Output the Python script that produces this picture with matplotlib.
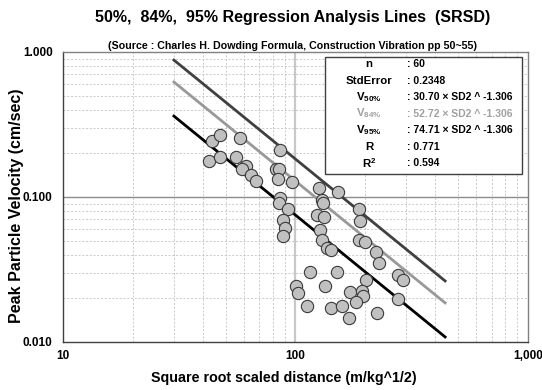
import numpy as np
import matplotlib
matplotlib.use("Agg")
import matplotlib.pyplot as plt
from matplotlib.ticker import FixedLocator, NullFormatter, LogLocator

plt.rcParams["font.family"] = ["Liberation Sans", "DejaVu Sans"]
plt.rcParams["mathtext.fontset"] = "custom"
plt.rcParams["mathtext.rm"] = "Liberation Sans"
plt.rcParams["mathtext.bf"] = "Liberation Sans:bold"

# === Data ===
sd = [43.9, 47.5, 57.7, 42.6, 47.3, 55.5, 61.2, 59.0, 64.5, 67.4,
      85.8, 82.4, 85.2, 83.8, 96.3, 126.2, 152.4, 85.8, 85.2, 92.4,
      129.7, 130.7, 123.4, 132.6, 88.6, 90.4, 88.6, 127.5, 129.7, 136.6,
      142.1, 187.6, 190.0, 187.6, 199.0, 223.0, 227.5, 115.5, 150.1, 100.2,
      103.0, 133.9, 201.0, 170.8, 192.6, 195.1, 181.5, 111.7, 142.1, 158.5,
      169.9, 224.8, 276.7, 290.8, 275.2]
ppv = [0.2445, 0.2664, 0.2552, 0.1763, 0.1887, 0.1878, 0.1643, 0.1552, 0.1411, 0.1296,
       0.2109, 0.1552, 0.1560, 0.1338, 0.1269, 0.1153, 0.1083, 0.0980, 0.0905, 0.0827,
       0.0954, 0.0905, 0.0751, 0.0731, 0.0689, 0.0608, 0.0538, 0.0592, 0.0505, 0.0445,
       0.0431, 0.0823, 0.0683, 0.0505, 0.0489, 0.0418, 0.0349, 0.0304, 0.0304, 0.0243,
       0.0219, 0.0243, 0.0268, 0.0221, 0.0225, 0.0208, 0.0190, 0.0177, 0.0172, 0.0177,
       0.0147, 0.0159, 0.0290, 0.0268, 0.0197]

line_labels = ["50%", "84%", "95%"]
line_coef = [30.70, 52.72, 74.71]
slope = -1.306
line_colors = ["#000000", "#999999", "#404040"]
sd_range = [30, 440]

stat_names = ["n", "StdError", r"$\mathbf{V}_{\mathbf{50\%}}$", r"$\mathbf{V}_{\mathbf{84\%}}$",
              r"$\mathbf{V}_{\mathbf{95\%}}$", "R", r"$\mathbf{R}^{\mathbf{2}}$"]
stat_values = [": 60", ": 0.2348", ": 30.70 \u00d7 SD2 ^ -1.306", ": 52.72 \u00d7 SD2 ^ -1.306",
               ": 74.71 \u00d7 SD2 ^ -1.306", ": 0.771", ": 0.594"]
stat_colors = ["black", "black", "black", "#a0a0a0", "black", "black", "black"]

# === Plot ===
fig = plt.figure(figsize=(5.42, 3.9), dpi=100, facecolor="white")
ax = fig.add_axes([0.1162, 0.1231, 0.858, 0.7436])
ax.set_xscale("log")
ax.set_yscale("log")
ax.set_xlim(10, 1000)
ax.set_ylim(0.01, 1.0)

# grid
ax.xaxis.set_minor_locator(LogLocator(base=10, subs=np.arange(2, 10)))
ax.yaxis.set_minor_locator(LogLocator(base=10, subs=np.arange(2, 10)))
ax.xaxis.set_minor_formatter(NullFormatter())
ax.yaxis.set_minor_formatter(NullFormatter())
ax.grid(which="minor", color="#c4c4c4", linestyle=(0, (2.5, 2)), linewidth=0.6)
ax.axvline(100, color="#c8c8c8", linewidth=1.6, zorder=1)
ax.axhline(0.1, color="#8c8c8c", linewidth=1.0, zorder=1)

# regression lines
xs = np.array(sd_range, dtype=float)
for coef, col in zip(line_coef, line_colors):
    ax.plot(xs, coef * xs ** slope, color=col, linewidth=2.0, zorder=3)

# points
ax.scatter(sd, ppv, s=78, facecolor="#c0c0c0", edgecolor="#3a3a3a", linewidth=0.8, zorder=4)

# ticks
ax.xaxis.set_major_locator(FixedLocator([10, 100, 1000]))
ax.yaxis.set_major_locator(FixedLocator([0.01, 0.1, 1.0]))
ax.set_xticklabels(["10", "100", "1,000"], fontsize=8.5, fontweight="bold")
ax.set_yticklabels(["0.010", "0.100", "1.000"], fontsize=8.5, fontweight="bold")
ax.tick_params(which="both", length=0)
ax.tick_params(axis="x", pad=5.5)
ax.tick_params(axis="y", pad=7.5)
for s in ax.spines.values():
    s.set_color("#808080")
    s.set_linewidth(1.0)
ax.spines["left"].set_color("#404040")
ax.spines["bottom"].set_color("#404040")

ax.set_xlabel("Square root scaled distance (m/kg^1/2)", fontsize=10.3, fontweight="bold")
ax.xaxis.label.set_va("center")
ax.xaxis.set_label_coords(0.475, -0.124)
ax.set_ylabel("Peak Particle Velocity (cm/sec)", fontsize=11.5, fontweight="bold")
ax.yaxis.label.set_va("center")
ax.yaxis.set_label_coords(-0.1, 0.47)

fig.text(0.539, 0.955, "50%,  84%,  95% Regression Analysis Lines  (SRSD)",
         ha="center", va="center", fontsize=11.5, fontweight="bold")
fig.text(0.539, 0.882, "(Source : Charles H. Dowding Formula, Construction Vibration pp 50~55)",
         ha="center", va="center", fontsize=7.7, fontweight="bold")

# stats box
bx0, bx1, by0, by1 = 325 / 542, 522 / 542, 1 - 57 / 390, 1 - 174 / 390
box = plt.Rectangle((bx0, by1), bx1 - bx0, by0 - by1, transform=fig.transFigure,
                    facecolor="white", edgecolor="#404040", linewidth=1.0, zorder=5)
fig.add_artist(box)
row_y = [64, 80.5, 97, 113.5, 130, 146.5, 163]
for nm, val, col, py in zip(stat_names, stat_values, stat_colors, row_y):
    fig.text(369 / 542, 1 - py / 390, nm, ha="center", va="center", fontsize=8.2,
             fontweight="bold", color=col, zorder=6)
    fig.text(407 / 542, 1 - py / 390, val, ha="left", va="center", fontsize=7.5,
             fontweight="bold", color=col, zorder=6)

plt.savefig("out.png", dpi=100, facecolor="white")
